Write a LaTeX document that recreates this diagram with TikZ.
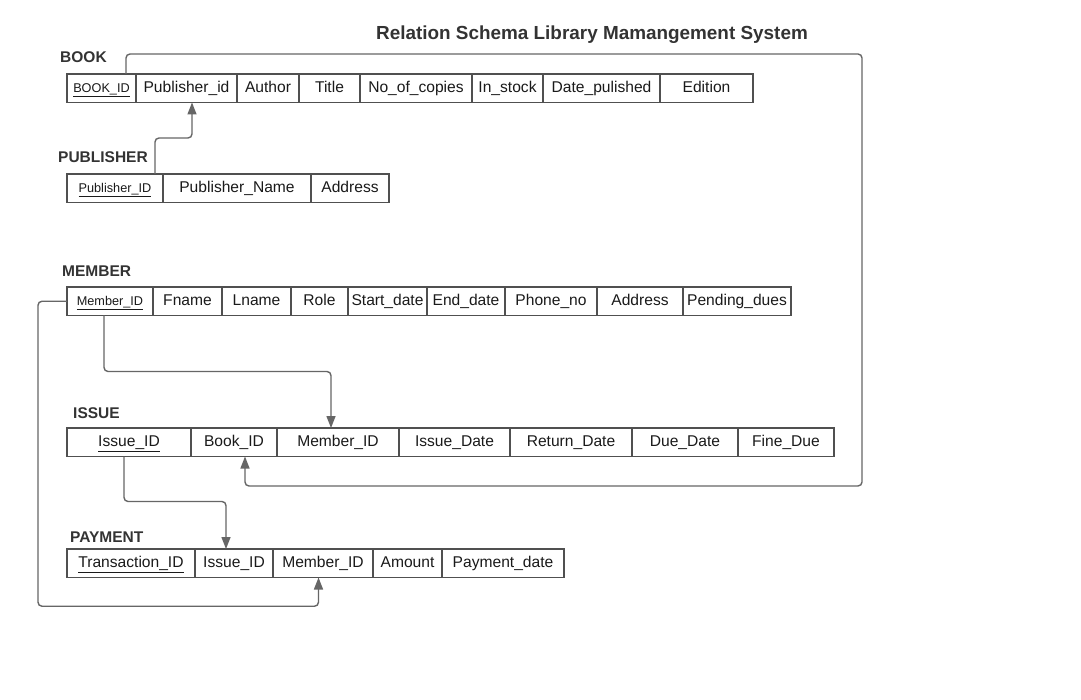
\documentclass[tikz,border=0pt]{standalone}
\usepackage{fontspec}
\setmainfont{Liberation Sans}
\usetikzlibrary{positioning,arrows.meta}
\definecolor{cellline}{HTML}{505050}
\definecolor{linkline}{HTML}{666666}
\definecolor{labeltext}{HTML}{333333}
\definecolor{celltext}{HTML}{1A1A1A}

\begin{document}
\begin{tikzpicture}[x=1pt,y=-1pt,node distance=0pt,
   attr/.style={draw=cellline,line width=1.6pt,inner sep=0pt,outer sep=0pt,
      minimum height=28.5pt,text=celltext,text height=11pt,text depth=3pt,
      font=\fontsize{15.6}{18}\selectfont},
   keysmall/.style={attr,font=\fontsize{12.7}{15}\selectfont},
   relname/.style={anchor=west,inner sep=0pt,text=labeltext,
      font=\fontsize{15.5}{18}\selectfont\bfseries},
   fk/.style={draw=linkline,line width=1.4pt,rounded corners=4pt,
      -{Triangle[length=12pt,width=9pt]}}]
   \useasboundingbox[fill=white] (0,0) rectangle (1081,700);
   \node[text=labeltext,font=\fontsize{18.9}{22}\selectfont\bfseries] (title) at (592,35)
      {Relation Schema Library Mamangement System};
   % BOOK
   \node[relname] (lbook) at (60,57) {BOOK};
   \node[keysmall,minimum width=69,anchor=north west] (bid) at (67,74) {\underline{BOOK\_ID}};
   \node[attr,minimum width=101] (bpub) [right=of bid] {Publisher\_id};
   \node[attr,minimum width=62] (bauth) [right=of bpub] {Author};
   \node[attr,minimum width=61] (btitle) [right=of bauth] {Title};
   \node[attr,minimum width=112] (bcop) [right=of btitle] {No\_of\_copies};
   \node[attr,minimum width=71] (bstock) [right=of bcop] {In\_stock};
   \node[attr,minimum width=117] (bdate) [right=of bstock] {Date\_pulished};
   \node[attr,minimum width=93] (bed) [right=of bdate] {Edition};
   % PUBLISHER
   \node[relname] (lpub) at (58,157) {PUBLISHER};
   \node[keysmall,minimum width=96,anchor=north west] (pid) at (67,174) {\underline{Publisher\_ID}};
   \node[attr,minimum width=148] (pname) [right=of pid] {Publisher\_Name};
   \node[attr,minimum width=78] (paddr) [right=of pname] {Address};
   % MEMBER
   \node[relname] (lmem) at (62,271) {MEMBER};
   \node[keysmall,minimum width=86,anchor=north west] (mid) at (67,287) {\underline{Member\_ID}};
   \node[attr,minimum width=69] (mfname) [right=of mid] {Fname};
   \node[attr,minimum width=69] (mlname) [right=of mfname] {Lname};
   \node[attr,minimum width=57] (mrole) [right=of mlname] {Role};
   \node[attr,minimum width=79] (mstart) [right=of mrole] {Start\_date};
   \node[attr,minimum width=78] (mend) [right=of mstart] {End\_date};
   \node[attr,minimum width=92] (mphone) [right=of mend] {Phone\_no};
   \node[attr,minimum width=86] (maddr) [right=of mphone] {Address};
   \node[attr,minimum width=108] (mdues) [right=of maddr] {Pending\_dues};
   % ISSUE
   \node[relname] (liss) at (73,413) {ISSUE};
   \node[attr,minimum width=124,anchor=north west] (iid) at (67,428) {\underline{Issue\_ID}};
   \node[attr,minimum width=86] (ibid) [right=of iid] {Book\_ID};
   \node[attr,minimum width=122] (imid) [right=of ibid] {Member\_ID};
   \node[attr,minimum width=111] (iidate) [right=of imid] {Issue\_Date};
   \node[attr,minimum width=122] (iret) [right=of iidate] {Return\_Date};
   \node[attr,minimum width=106] (idue) [right=of iret] {Due\_Date};
   \node[attr,minimum width=96] (ifine) [right=of idue] {Fine\_Due};
   % PAYMENT
   \node[relname] (lpay) at (70,537) {PAYMENT};
   \node[attr,minimum width=128,anchor=north west] (tid) at (67,549) {\underline{Transaction\_ID}};
   \node[attr,minimum width=78] (piid) [right=of tid] {Issue\_ID};
   \node[attr,minimum width=100] (pmid) [right=of piid] {Member\_ID};
   \node[attr,minimum width=69] (pamt) [right=of pmid] {Amount};
   \node[attr,minimum width=122] (pdate) [right=of pamt] {Payment\_date};
   % foreign keys
   \coordinate (rim) at (862,486);
   \draw[fk] ([xshift=-10pt]bid.north east) -- ++(0,-20) -| (rim) -| ([xshift=11pt]ibid.south);
   \draw[fk] ([xshift=-8pt]pid.north east) -- ++(0,-36) -| ([xshift=5.5pt]bpub.south);
   \draw[fk] ([xshift=-6pt]mid.south) -- ++(0,56) -| ([xshift=-7pt]imid.north);
   \draw[fk] (mid.west) -- ++(-29,0) -- ++(0,305) -| ([xshift=-4.5pt]pmid.south);
   \draw[fk] ([xshift=-5pt]iid.south) -- ++(0,45) -| ([xshift=-8pt]piid.north);
\end{tikzpicture}
\end{document}
